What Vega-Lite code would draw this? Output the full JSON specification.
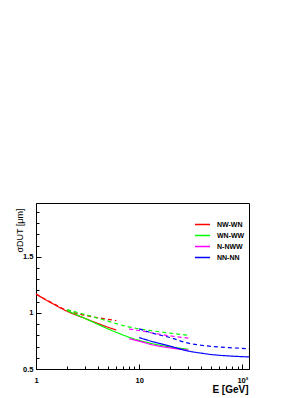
{
  "$schema": "https://vega.github.io/schema/vega-lite/v6.json",
  "width": 213,
  "height": 166,
  "autosize": "none",
  "padding": {"left": 36, "top": 203, "right": 59, "bottom": 29},
  "background": "white",
  "config": {
    "view": {"stroke": "black", "strokeWidth": 1},
    "font": "Liberation Sans",
    "axis": {"grid": false, "domainColor": "black", "tickColor": "black", "labelColor": "black", "titleColor": "black"}
  },
  "data": {
    "values": [
      {"series": "NW-WN", "style": "solid", "E": 1, "sigma": 1.168},
      {"series": "NW-WN", "style": "solid", "E": 1.5, "sigma": 1.075},
      {"series": "NW-WN", "style": "solid", "E": 2, "sigma": 1.015},
      {"series": "NW-WN", "style": "solid", "E": 3, "sigma": 0.95},
      {"series": "NW-WN", "style": "solid", "E": 4, "sigma": 0.905},
      {"series": "NW-WN", "style": "solid", "E": 5, "sigma": 0.872},
      {"series": "NW-WN", "style": "solid", "E": 6, "sigma": 0.848},
      {"series": "NW-WN", "style": "dashed", "E": 1, "sigma": 1.168},
      {"series": "NW-WN", "style": "dashed", "E": 1.5, "sigma": 1.08},
      {"series": "NW-WN", "style": "dashed", "E": 2, "sigma": 1.022},
      {"series": "NW-WN", "style": "dashed", "E": 3, "sigma": 0.978},
      {"series": "NW-WN", "style": "dashed", "E": 4, "sigma": 0.957},
      {"series": "NW-WN", "style": "dashed", "E": 5, "sigma": 0.943},
      {"series": "NW-WN", "style": "dashed", "E": 6, "sigma": 0.932},
      {"series": "WN-WW", "style": "solid", "E": 2, "sigma": 1.02},
      {"series": "WN-WW", "style": "solid", "E": 3, "sigma": 0.95},
      {"series": "WN-WW", "style": "solid", "E": 4, "sigma": 0.897},
      {"series": "WN-WW", "style": "solid", "E": 5, "sigma": 0.857},
      {"series": "WN-WW", "style": "solid", "E": 6.5, "sigma": 0.814},
      {"series": "WN-WW", "style": "solid", "E": 8, "sigma": 0.783},
      {"series": "WN-WW", "style": "solid", "E": 10, "sigma": 0.755},
      {"series": "WN-WW", "style": "solid", "E": 14, "sigma": 0.722},
      {"series": "WN-WW", "style": "solid", "E": 20, "sigma": 0.697},
      {"series": "WN-WW", "style": "solid", "E": 30, "sigma": 0.676},
      {"series": "WN-WW", "style": "dashed", "E": 2, "sigma": 1.03},
      {"series": "WN-WW", "style": "dashed", "E": 3, "sigma": 0.985},
      {"series": "WN-WW", "style": "dashed", "E": 4, "sigma": 0.952},
      {"series": "WN-WW", "style": "dashed", "E": 5, "sigma": 0.927},
      {"series": "WN-WW", "style": "dashed", "E": 7, "sigma": 0.887},
      {"series": "WN-WW", "style": "dashed", "E": 10, "sigma": 0.858},
      {"series": "WN-WW", "style": "dashed", "E": 14, "sigma": 0.838},
      {"series": "WN-WW", "style": "dashed", "E": 20, "sigma": 0.82},
      {"series": "WN-WW", "style": "dashed", "E": 30, "sigma": 0.8},
      {"series": "N-NWW", "style": "solid", "E": 8, "sigma": 0.77},
      {"series": "N-NWW", "style": "solid", "E": 10, "sigma": 0.748},
      {"series": "N-NWW", "style": "solid", "E": 14, "sigma": 0.712},
      {"series": "N-NWW", "style": "solid", "E": 20, "sigma": 0.688},
      {"series": "N-NWW", "style": "solid", "E": 30, "sigma": 0.668},
      {"series": "N-NWW", "style": "dashed", "E": 8, "sigma": 0.855},
      {"series": "N-NWW", "style": "dashed", "E": 10, "sigma": 0.843},
      {"series": "N-NWW", "style": "dashed", "E": 14, "sigma": 0.818},
      {"series": "N-NWW", "style": "dashed", "E": 20, "sigma": 0.795},
      {"series": "N-NWW", "style": "dashed", "E": 30, "sigma": 0.775},
      {"series": "NN-NN", "style": "solid", "E": 10, "sigma": 0.78},
      {"series": "NN-NN", "style": "solid", "E": 14, "sigma": 0.74},
      {"series": "NN-NN", "style": "solid", "E": 20, "sigma": 0.703},
      {"series": "NN-NN", "style": "solid", "E": 30, "sigma": 0.66},
      {"series": "NN-NN", "style": "solid", "E": 40, "sigma": 0.641},
      {"series": "NN-NN", "style": "solid", "E": 50, "sigma": 0.629},
      {"series": "NN-NN", "style": "solid", "E": 75, "sigma": 0.616},
      {"series": "NN-NN", "style": "solid", "E": 100, "sigma": 0.61},
      {"series": "NN-NN", "style": "solid", "E": 116, "sigma": 0.608},
      {"series": "NN-NN", "style": "dashed", "E": 10, "sigma": 0.858},
      {"series": "NN-NN", "style": "dashed", "E": 14, "sigma": 0.815},
      {"series": "NN-NN", "style": "dashed", "E": 20, "sigma": 0.78},
      {"series": "NN-NN", "style": "dashed", "E": 30, "sigma": 0.73},
      {"series": "NN-NN", "style": "dashed", "E": 40, "sigma": 0.712},
      {"series": "NN-NN", "style": "dashed", "E": 50, "sigma": 0.702},
      {"series": "NN-NN", "style": "dashed", "E": 75, "sigma": 0.69},
      {"series": "NN-NN", "style": "dashed", "E": 116, "sigma": 0.681}
    ]
  },
  "mark": {"type": "line", "strokeWidth": 1.2, "interpolate": "monotone", "clip": true},
  "encoding": {
    "x": {
      "field": "E",
      "type": "quantitative",
      "scale": {"type": "log", "domain": [1, 116], "nice": false},
      "axis": {
        "values": [1, 2, 3, 4, 5, 6, 7, 8, 9, 10, 20, 30, 40, 50, 60, 70, 80, 90, 100],
        "labelExpr": "datum.value == 1 ? '1' : datum.value == 10 ? '10' : datum.value == 100 ? '10²' : ''",
        "tickSize": {"condition": {"test": "datum.value == 1 || datum.value == 10 || datum.value == 100", "value": -5}, "value": -3},
        "labelFontSize": 7.5,
        "labelFontWeight": "bold",
        "labelPadding": 12,
        "labelFlush": false,
        "labelOverlap": false,
        "title": "E [GeV]",
        "titleFontSize": 10,
        "titleFontWeight": "bold",
        "titleX": 212,
        "titleY": 23,
        "titleAlign": "right",
        "titleBaseline": "alphabetic"
      }
    },
    "y": {
      "field": "sigma",
      "type": "quantitative",
      "scale": {"domain": [0.5, 1.98], "nice": false, "zero": false},
      "axis": {
        "values": [0.5, 0.6, 0.7, 0.8, 0.9, 1.0, 1.1, 1.2, 1.3, 1.4, 1.5, 1.6, 1.7, 1.8, 1.9],
        "labelExpr": "datum.value == 0.5 ? '0.5' : datum.value == 1 ? '1' : datum.value == 1.5 ? '1.5' : ''",
        "tickSize": {"condition": {"test": "datum.value == 0.5 || datum.value == 1 || datum.value == 1.5", "value": -5}, "value": -3},
        "labelFontSize": 7.5,
        "labelFontWeight": "bold",
        "labelPadding": 8,
        "labelFlush": false,
        "labelOverlap": false,
        "title": "σDUT [μm]",
        "titleFontSize": 9,
        "titleFontWeight": "normal",
        "titleX": -17,
        "titleY": 5,
        "titleAngle": 270,
        "titleAlign": "right",
        "titleBaseline": "middle"
      }
    },
    "color": {
      "field": "series",
      "type": "nominal",
      "scale": {"domain": ["NW-WN", "WN-WW", "N-NWW", "NN-NN"], "range": ["#ff0000", "#00ff00", "#ff00ff", "#0000ff"]},
      "legend": {
        "orient": "none",
        "legendX": 158,
        "legendY": 16,
        "title": null,
        "symbolType": "stroke",
        "symbolSize": 225,
        "symbolStrokeWidth": 1.5,
        "symbolDash": [1, 0],
        "labelFontSize": 7,
        "labelFontWeight": "bold",
        "labelOffset": 6,
        "clipHeight": 11,
        "rowPadding": 0
      }
    },
    "strokeDash": {
      "field": "style",
      "type": "nominal",
      "scale": {"domain": ["solid", "dashed"], "range": [[1, 0], [4, 3]]},
      "legend": null
    }
  }
}
